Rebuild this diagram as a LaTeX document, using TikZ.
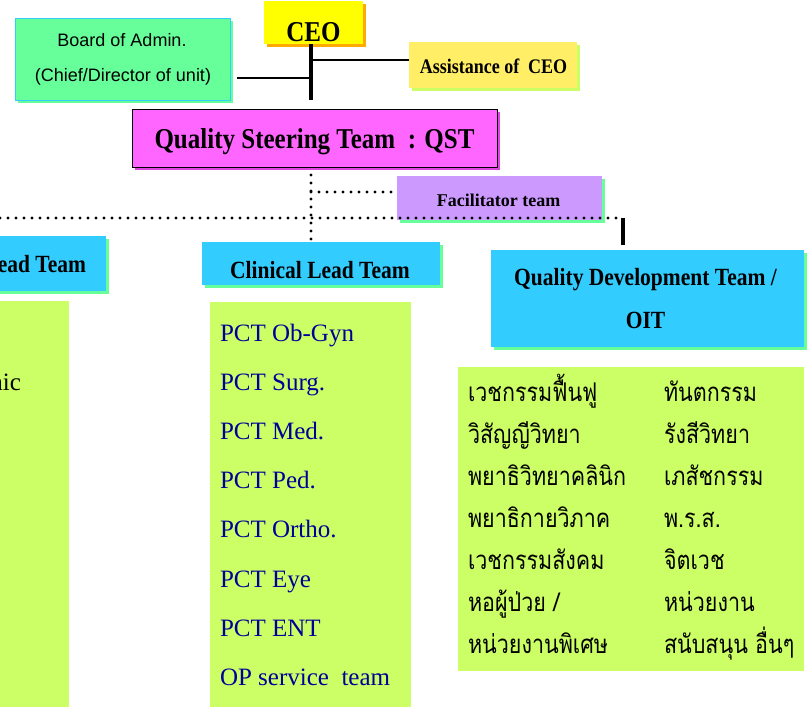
\documentclass[tikz,border=0pt]{standalone}
\usepackage{fontspec}
\setmainfont{Liberation Serif}
\newfontfamily\arialf{Liberation Sans}
\newfontfamily\thaif[Script=Thai]{Loma}
\usetikzlibrary{shadows}
\definecolor{bgreen}{HTML}{66FF99}
\definecolor{bcyan}{HTML}{33CCFF}
\definecolor{ceoY}{HTML}{FFFF00}
\definecolor{ceoS}{HTML}{FFAA00}
\definecolor{asstY}{HTML}{FFEE66}
\definecolor{limeG}{HTML}{CCFF66}
\definecolor{qstM}{HTML}{FF66FF}
\definecolor{qstS}{HTML}{E044E0}
\definecolor{facP}{HTML}{CC99FF}
\definecolor{navy}{HTML}{000099}
\newcommand{\vst}[1]{\scalebox{1}[1.15]{#1}}
\newcommand{\tst}[1]{\scalebox{1}[1.2]{#1}}
\newcommand{\fsz}[1]{\fontsize{#1}{#1}\selectfont}
\begin{document}
\begin{tikzpicture}[x=1pt,y=-1pt,
  box/.style={anchor=north west,inner sep=0pt,outer sep=0pt,draw=none},
  shd/.style={drop shadow={shadow xshift=3pt,shadow yshift=-3pt,fill=#1,opacity=1}},
  lbl/.style={inner sep=0pt,outer sep=0pt,align=center},
  boldlbl/.style={lbl,font=\bfseries},
  thailbl/.style={lbl,anchor=base west,font=\thaif\fsz{21.5}},
  solidln/.style={line width=2pt,black},
  thickln/.style={line width=4pt,black},
  dotln/.style={line width=3.3pt,line cap=round,dash pattern=on 0pt off 8pt,black}]
\useasboundingbox (0,0) rectangle (810,707);
\clip (0,0) rectangle (810,707);

% ---- boxes ----
\node[box,fill=bgreen,draw=bcyan,line width=0.8pt,shd=bgreen,minimum width=215pt,minimum height=82pt] (board) at (15,18) {};
\node[box,fill=ceoY,shd=ceoS,minimum width=99pt,minimum height=43pt] (ceo) at (264,1) {};
\node[box,fill=asstY,shd=limeG,minimum width=168pt,minimum height=46pt] (asst) at (409,42) {};
\node[box,fill=qstM,draw=black,line width=0.8pt,shd=qstS,minimum width=365pt,minimum height=58pt] (qst) at (132,109) {};
\node[box,fill=facP,shd=bgreen,minimum width=205pt,minimum height=44pt] (fac) at (397,176) {};
\node[box,fill=bcyan,shd=bgreen,minimum width=146pt,minimum height=55pt] (leadL) at (-40,236) {};
\node[box,fill=bcyan,shd=bgreen,minimum width=238pt,minimum height=43pt] (clin) at (202,242) {};
\node[box,fill=bcyan,shd=bgreen,minimum width=313pt,minimum height=97pt] (qdt) at (491,250) {};
\node[box,fill=limeG,minimum width=109pt,minimum height=406pt] (listL) at (-40,301) {};
\node[box,fill=limeG,minimum width=201pt,minimum height=405pt] (listC) at (210,302) {};
\node[box,fill=limeG,minimum width=346pt,minimum height=304pt] (listR) at (458,367) {};

% ---- texts ----
\node[lbl,font=\arialf\fsz{18}] (boardA) at (122,40) {Board of Admin.};
\node[lbl,font=\arialf\fsz{18}] (boardB) at (123,77) {(Chief/Director of unit)};
\node[boldlbl] (ceoT) at (313.5,32) {\vst{\bfseries\fsz{25}CEO}};
\node[boldlbl] (asstT) at (493.5,66) {\vst{\bfseries\fsz{18}Assistance of\ \ CEO}};
\node[boldlbl] (qstT) at (314.5,142) {\vst{\bfseries\fsz{25}Quality Steering Team\ \ : QST}};
\node[boldlbl] (facT) at (498.5,200) {\bfseries\fsz{18}Facilitator team};
\node[boldlbl,anchor=east] (leadLT) at (86,264) {\vst{\bfseries\fsz{21.5}Lead Team}};
\node[boldlbl] (clinT) at (320,270) {\vst{\bfseries\fsz{21.5}Clinical Lead Team}};
\node[boldlbl] (qdtA) at (645.5,280) {\vst{\bfseries\fsz{21.5}Quality Development Team /}};
\node[boldlbl] (qdtB) at (645.5,320) {\vst{\bfseries\fsz{21.5}OIT}};
\node[lbl,anchor=base east,font=\fsz{25}] (listLT) at (21,390.5) {Clinic};

\foreach \t [count=\i from 0] in {PCT Ob-Gyn,PCT Surg.,PCT Med.,PCT Ped.,PCT Ortho.,PCT Eye,PCT ENT,OP service\ \ team}
  \node[lbl,anchor=base west,font=\fsz{25},text=navy] (pct\i) at (220,{341+49.2*\i}) {\t};

\foreach \a/\b [count=\i from 0] in {เวชกรรมฟื้นฟู/ทันตกรรม,วิสัญญีวิทยา/รังสีวิทยา,พยาธิวิทยาคลินิก/เภสัชกรรม,พยาธิกายวิภาค/พ.ร.ส.,เวชกรรมสังคม/จิตเวช,{หอผู้ป่วย /}/หน่วยงาน,หน่วยงานพิเศษ/สนับสนุน อื่นๆ}{
  \node[thailbl] (thA\i) at (468,{401+42*\i}) {\tst{\a}};
  \node[thailbl] (thB\i) at (664,{401+42*\i}) {\tst{\b}};
}

% ---- connectors ----
\coordinate (spine) at (311,100);
\coordinate (bj) at (237,78);
\draw[thickln] (spine |- ceo.south) -- (spine);
\draw[solidln] (bj) -- (bj -| spine);
\draw[solidln] ([yshift=5pt]asst.west -| spine) -- ([yshift=5pt]asst.west);

\coordinate (dtop) at (311,175);
\coordinate (dleft) at (0,218);
\coordinate (dright) at (616,218);
\draw[dotln] (dtop) -- (dtop |- clin.north);
\draw[dotln] (311,192) -- (fac.west |- 0,192);
\draw[dotln] (dleft) -- (dright);
\coordinate (qj) at (623,218);
\draw[line width=3.5pt] (qj) -- (qj |- 0,245);
\end{tikzpicture}
\end{document}
